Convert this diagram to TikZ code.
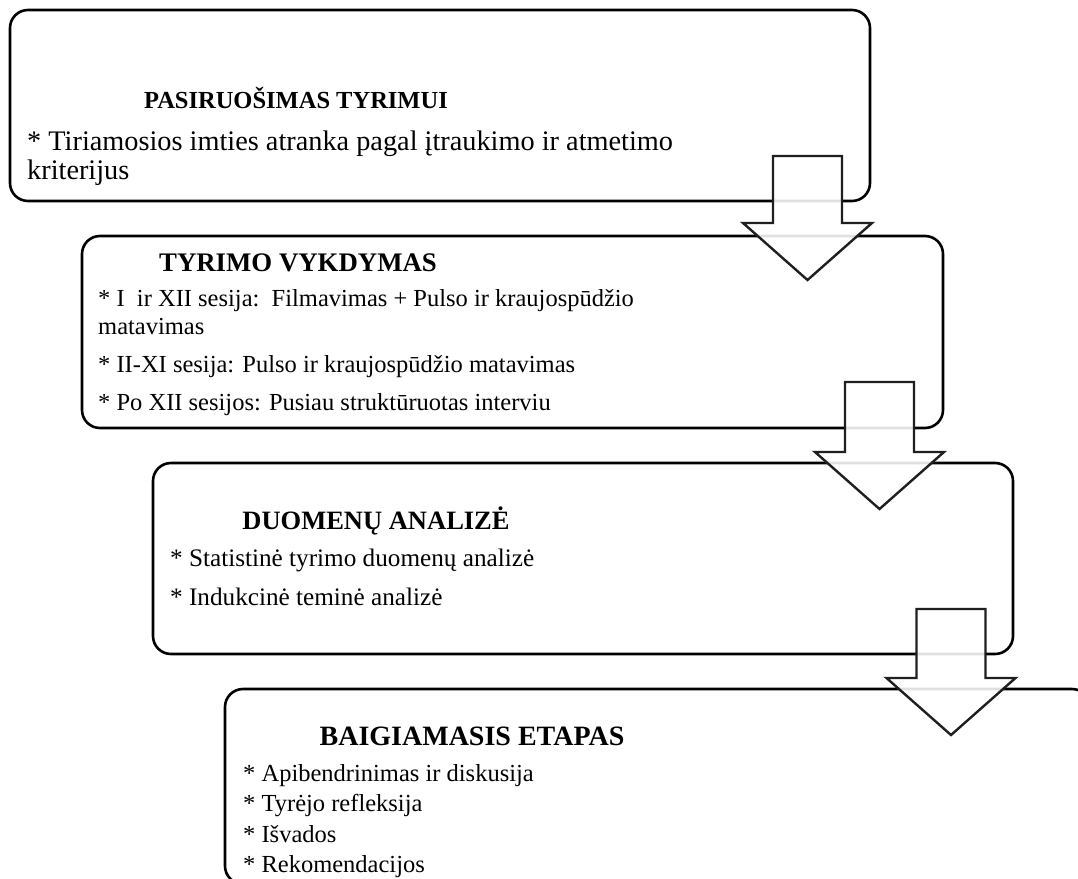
\documentclass[tikz,border=0pt]{standalone}
\usepackage{fontspec}
\setmainfont{Liberation Serif}
\begin{document}
\begin{tikzpicture}[x=1pt,y=-1pt,
  stagebox/.style={draw=black,line width=2.6pt,rounded corners=18pt,fill=white},
  blockarrow/.style={draw=black!88,line width=2.4pt,fill=white,fill opacity=0.88,line join=miter},
  ttl/.style={font=\fontsize{#1}{29}\selectfont\bfseries,inner sep=0pt,anchor=base},
  ttl/.default=26.5,
  item/.style={font=\fontsize{#1}{29}\selectfont,inner sep=0pt,anchor=base west},
  item/.default=24.5]
\useasboundingbox (0,0) rectangle (1078,878);
\clip (0,0) rectangle (1078,878);

% down arrow: #1 = shaft centre x, #2 = shaft top, #3 = wing level
\newcommand\downblock[3]{%
  \path[blockarrow] (#1-34.5,#2) -- (#1+34.5,#2) -- (#1+34.5,#3) -- (#1+64.5,#3)
    -- (#1,#3+57) -- (#1-64.5,#3) -- (#1-34.5,#3) -- cycle;}

% stage 1
\path[stagebox] (10,10) rectangle (870,201);
\node[ttl=24.5] (t1) at (296,108) {PASIRUOŠIMAS TYRIMUI};
\node[item=28.3] (a1) at (27,150) {* Tiriamosios imties atranka pagal įtraukimo ir atmetimo};
\node[item=28.3] (a2) at (27,179) {kriterijus};

% stage 2
\path[stagebox] (82,236) rectangle (943,428);
\node[ttl=26.8] (t2) at (298,271) {TYRIMO VYKDYMAS};
\node[item] (b1) at (98,306) {* I\ \ ir XII sesija:\ \ Filmavimas + Pulso ir kraujospūdžio};
\node[item] (b2) at (98,334) {matavimas};
\node[item] (b3) at (98,372) {* II-XI sesija: Pulso ir kraujospūdžio matavimas};
\node[item] (b4) at (98,410) {* Po XII sesijos: Pusiau struktūruotas interviu};
\downblock{807.5}{156}{223}

% stage 3
\path[stagebox] (153,463) rectangle (1013,654);
\node[ttl=26.5] (t3) at (376,529) {DUOMENŲ ANALIZĖ};
\node[item=25.2] (c1) at (170,566) {* Statistinė tyrimo duomenų analizė};
\node[item=25.2] (c2) at (170,605) {* Indukcinė teminė analizė};
\downblock{879.5}{382}{452}

% stage 4
\path[stagebox] (225,689) rectangle (1090,884);
\node[ttl=28] (t4) at (472,745) {BAIGIAMASIS ETAPAS};
\node[item] (d1) at (243,781) {* Apibendrinimas ir diskusija};
\node[item] (d2) at (243,811.5) {* Tyrėjo refleksija};
\node[item] (d3) at (243,842) {* Išvados};
\node[item] (d4) at (243,872) {* Rekomendacijos};
\downblock{951}{609}{678}
\end{tikzpicture}
\end{document}
